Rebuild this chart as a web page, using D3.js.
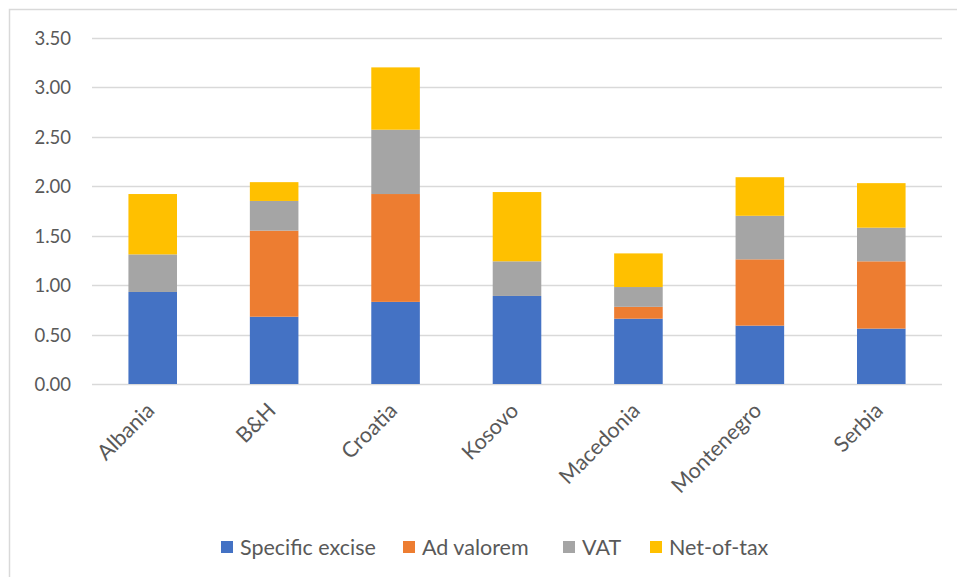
<!DOCTYPE html>
<html><head><meta charset="utf-8">
<script src="https://cdn.jsdelivr.net/npm/d3@7"></script>
<style>
body{margin:0;background:#fff;}
text{font-family:Lato,"Noto Sans",sans-serif;}
</style></head>
<body><svg id="c" width="957" height="577"></svg>
<script>
const categories = ["Albania","B&H","Croatia","Kosovo","Macedonia","Montenegro","Serbia"];
const seriesNames = ["Specific excise","Ad valorem","VAT","Net-of-tax"];
const specificExcise = [0.93,0.68,0.83,0.89,0.66,0.59,0.56];
const adValorem      = [0.00,0.87,1.09,0.00,0.12,0.67,0.68];
const vat            = [0.38,0.30,0.65,0.35,0.20,0.44,0.34];
const netOfTax       = [0.61,0.19,0.63,0.70,0.34,0.39,0.45];
const yTicks = [0,0.5,1,1.5,2,2.5,3,3.5];
const colors = ["#4472C4","#ED7D31","#A5A5A5","#FFC000"];

const svg = d3.select("#c");
// chart border (top & left visible)
svg.append("rect").attr("x",9.5).attr("y",9.5).attr("width",1000).attr("height",1000)
  .attr("fill","none").attr("stroke","#d9d9d9").attr("stroke-width",1.5);

const x0=92, x1=942, yTop=37.7, yBot=384;
const x = d3.scaleBand().domain(categories).range([x0,x1]).paddingInner(0.6).paddingOuter(0.3);
const y = d3.scaleLinear().domain([0,3.5]).range([yBot,yTop]);

const rows = categories.map((c,i)=>({cat:c,"Specific excise":specificExcise[i],"Ad valorem":adValorem[i],"VAT":vat[i],"Net-of-tax":netOfTax[i]}));
const stacked = d3.stack().keys(seriesNames)(rows);

// gridlines
svg.append("g").selectAll("line").data(yTicks).join("line")
  .attr("x1",x0).attr("x2",x1).attr("y1",d=>Math.round(y(d))+0.5).attr("y2",d=>Math.round(y(d))+0.5)
  .attr("stroke","#d9d9d9").attr("stroke-width",1.3);

// y axis labels
const yAxis = d3.axisLeft(y).tickValues(yTicks).tickFormat(d3.format(".2f")).tickSize(0).tickPadding(0);
const gy = svg.append("g").attr("transform","translate(71,0)").call(yAxis);
gy.select(".domain").remove();
gy.selectAll("text").attr("fill","#595959").style("font-size","18.5px").attr("dy","0.35em");

// bars
svg.append("g").selectAll("g").data(stacked).join("g")
  .attr("fill",(d,i)=>colors[i])
  .selectAll("rect").data(d=>d).join("rect")
  .attr("x",d=>x(d.data.cat)).attr("width",x.bandwidth())
  .attr("y",d=>y(d[1])).attr("height",d=>Math.max(0,y(d[0])-y(d[1])));

// x axis
const xAxis = d3.axisBottom(x).tickSize(0).tickPadding(0);
const gx = svg.append("g").attr("transform",`translate(0,${yBot})`).call(xAxis);
gx.select(".domain").remove();
gx.selectAll("text").attr("fill","#595959").style("font-size","21.5px")
  .attr("text-anchor","end").attr("dy",null).attr("y",0)
  .attr("transform","translate(3,28) rotate(-45)");

// legend
const legendX = [221,403,563,650];
const lg = svg.append("g").selectAll("g").data(seriesNames).join("g")
  .attr("transform",(d,i)=>`translate(${legendX[i]},541)`);
lg.append("rect").attr("width",12).attr("height",12).attr("fill",(d,i)=>colors[i]);
lg.append("text").attr("x",19).attr("y",13.5).attr("fill","#595959").style("font-size","21.5px").text(d=>d);
</script></body></html>
